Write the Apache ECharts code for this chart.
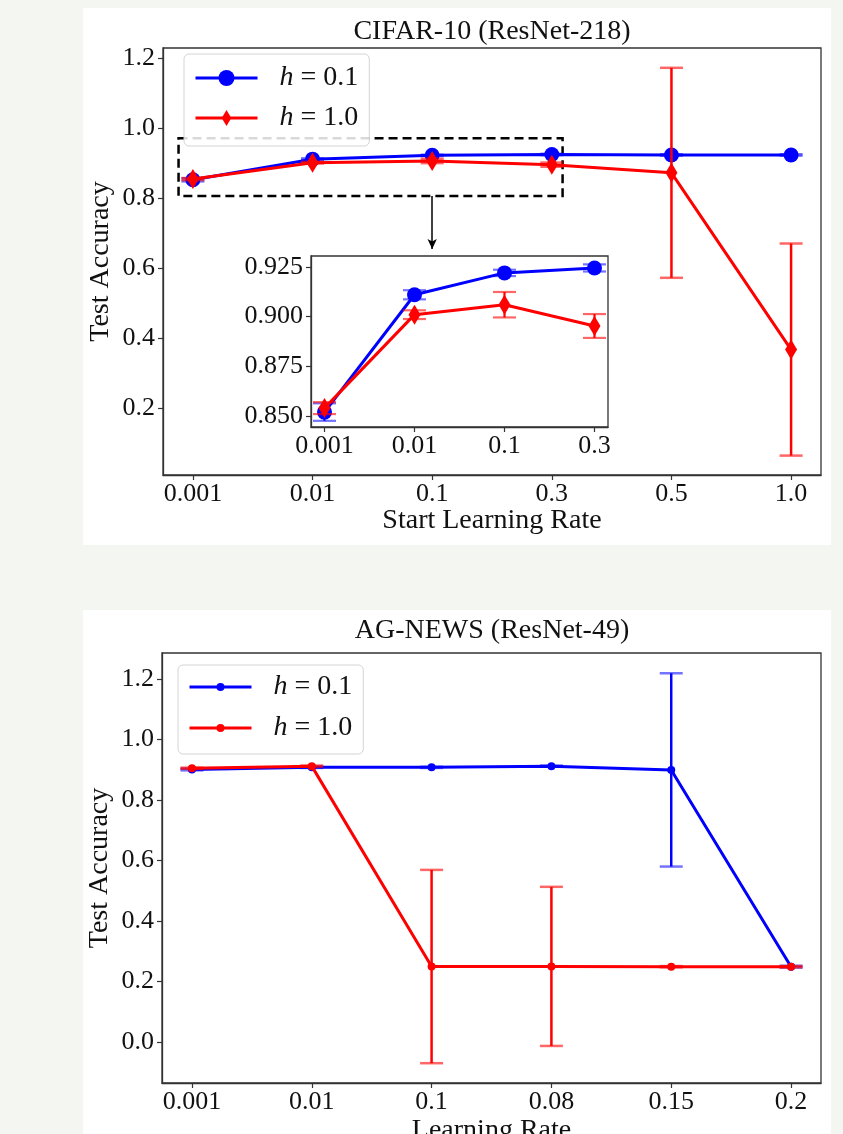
<!DOCTYPE html>
<html><head><meta charset="utf-8">
<script src="https://cdn.jsdelivr.net/npm/echarts@6.0.0/dist/echarts.min.js"></script>
<style>
html,body{margin:0;padding:0;background:#f4f6f1;width:843px;height:1134px;overflow:hidden}
.panel{position:absolute;background:#fff}
#c1{left:83px;top:8px;width:748px;height:537px}
#c2{left:83px;top:610px;width:748px;height:524px}
</style></head><body>
<div id="c1" class="panel"></div><div id="c2" class="panel"></div>
<script>
const FONT = "'Liberation Serif', 'DejaVu Serif', serif";
const seriesNames = ['h = 0.1', 'h = 1.0'];

// CIFAR-10 (ResNet-218)
const cifarLR = ['0.001', '0.01', '0.1', '0.3', '0.5', '1.0'];
const cifarAccH01 = [0.852, 0.911, 0.922, 0.9245, 0.923, 0.923];
const cifarErrH01 = [0.0044, 0.0023, 0.0016, 0.0018, 0.002, 0.002];
const cifarAccH10 = [0.854, 0.901, 0.906, 0.8953, 0.872, 0.367];
const cifarErrH10 = [0.003, 0.0022, 0.0064, 0.006, 0.300, 0.303];
const cifarYTicks = [0.2, 0.4, 0.6, 0.8, 1.0, 1.2];
const cifarYRange = [0.0086, 1.2286];
const cifarXRange = [-0.25, 5.25];
const insetCount = 4;
const insetYTicks = [0.850, 0.875, 0.900, 0.925];
const insetYRange = [0.8445, 0.9305];
const insetXRange = [-0.15, 3.15];
const zoomBoxX = [-0.12, 3.09];
const zoomBoxY = [0.806, 0.971];
const arrowX = 2;
const arrowY = [0.806, 0.654];

// AG-NEWS (ResNet-49)
const agLR = ['0.001', '0.01', '0.1', '0.08', '0.15', '0.2'];
const agAccH01 = [0.901, 0.908, 0.908, 0.912, 0.8995, 0.249];
const agErrH01 = [0.003, 0.002, 0.002, 0.002, 0.3195, 0.003];
const agAccH10 = [0.905, 0.912, 0.2495, 0.250, 0.249, 0.249];
const agErrH10 = [0.002, 0.002, 0.3195, 0.263, 0.002, 0.002];
const agYTicks = [0.0, 0.2, 0.4, 0.6, 0.8, 1.0, 1.2];
const agYRange = [-0.1355, 1.286];
const agXRange = [-0.25, 5.25];

const BLUE = '#0000ff', RED = '#ff0000';
const BLUE_CAP = 'rgba(0,0,255,0.55)', RED_CAP = 'rgba(255,0,0,0.6)';
const AX = '#333';
const DIAMOND = 'path://M-10,-10 M10,10 M0,-10 L6,0 L0,10 L-6,0 Z';

function pairs(vals) { return vals.map((v, i) => [i, v]); }
function triples(vals, errs) { return vals.map((v, i) => [i, v, errs[i]]); }

function errSeries(vals, errs, color, capColor, xi, yi, halfCap, lw, z) {
  return {
    type: 'custom', coordinateSystem: 'cartesian2d', xAxisIndex: xi, yAxisIndex: yi,
    silent: true, z: z, data: triples(vals, errs), encode: { x: 0, y: 1 },
    renderItem: function (params, api) {
      const x = api.value(0), y = api.value(1), e = api.value(2);
      const t = api.coord([x, y + e]), b = api.coord([x, y - e]);
      return {
        type: 'group', children: [
          { type: 'line', shape: { x1: t[0], y1: t[1], x2: b[0], y2: b[1] }, style: { stroke: color, lineWidth: lw } },
          { type: 'line', shape: { x1: t[0] - halfCap, y1: t[1], x2: t[0] + halfCap, y2: t[1] }, style: { stroke: capColor, lineWidth: lw } },
          { type: 'line', shape: { x1: b[0] - halfCap, y1: b[1], x2: b[0] + halfCap, y2: b[1] }, style: { stroke: capColor, lineWidth: lw } }
        ]
      };
    }
  };
}

function lineSeries(name, vals, color, symbol, size, xi, yi, z, extra) {
  return Object.assign({
    name: name, type: 'line', xAxisIndex: xi, yAxisIndex: yi, z: z,
    data: pairs(vals), symbol: symbol, symbolSize: size, showSymbol: true,
    lineStyle: { color: color, width: 3 }, itemStyle: { color: color },
    emphasis: { disabled: true }
  }, extra || {});
}

function xAxisCfg(gi, labels, range, fs, margin, name, nameGap) {
  const idx = labels.map((_, i) => i);
  return {
    type: 'value', gridIndex: gi, min: range[0], max: range[1],
    name: name || '', nameLocation: 'middle', nameGap: nameGap || 0, nameMoveOverlap: false,
    nameTextStyle: { fontFamily: FONT, fontSize: 28, color: '#111' },
    axisLine: { show: true, onZero: false, lineStyle: { color: AX, width: 1.3 } },
    axisTick: { show: true, inside: false, length: 5, customValues: idx, lineStyle: { color: AX, width: 1.2 } },
    axisLabel: { show: true, customValues: idx, margin: margin, fontFamily: FONT, fontSize: fs, color: '#111',
      formatter: v => labels[Math.round(v)] },
    splitLine: { show: false }
  };
}

function yAxisCfg(gi, ticks, range, fs, digits, name, nameGap) {
  return {
    type: 'value', gridIndex: gi, min: range[0], max: range[1],
    name: name || '', nameLocation: 'middle', nameGap: nameGap || 0, nameMoveOverlap: false,
    nameTextStyle: { fontFamily: FONT, fontSize: 28, color: '#111' },
    axisLine: { show: true, onZero: false, lineStyle: { color: AX, width: 1.3 } },
    axisTick: { show: true, inside: false, length: 5, customValues: ticks, lineStyle: { color: AX, width: 1.2 } },
    axisLabel: { show: true, customValues: ticks, margin: 8, fontFamily: FONT, fontSize: fs, color: '#111',
      formatter: v => v.toFixed(digits) },
    splitLine: { show: false }
  };
}

function legendCfg(left, top, itemHeight, itemGap, padding) {
  return {
    data: seriesNames, orient: 'vertical', left: left, top: top,
    itemWidth: 62, itemHeight: itemHeight, itemGap: itemGap, padding: padding,
    borderColor: '#d4d4d4', borderWidth: 1, borderRadius: 5, backgroundColor: 'rgba(255,255,255,0.85)',
    selectedMode: false,
    lineStyle: { width: 3 },
    formatter: n => '{g|}{i|h}' + n.slice(1),
    textStyle: {
      fontFamily: FONT, fontSize: 28, color: '#111', lineHeight: 30,
      rich: { g: { width: 17 }, i: { fontStyle: 'italic', fontFamily: FONT, fontSize: 28, color: '#111' } }
    }
  };
}

function titleCfg(text, top) {
  return { text: text, left: 409, top: top, textAlign: 'center', padding: 0,
    textStyle: { fontFamily: FONT, fontSize: 28, fontWeight: 'normal', color: '#111' } };
}

// ---------- Chart 1 ----------
const c1 = echarts.init(document.getElementById('c1'), null, { renderer: 'canvas' });
const ins = (a) => a.slice(0, insetCount);
c1.setOption({
  animation: false,
  backgroundColor: '#fff',
  title: titleCfg('CIFAR-10 (ResNet-218)', 10),
  legend: legendCfg(101, 46, 20, 10, [9, 11, 13, 10]),
  grid: [
    { left: 80, top: 40, width: 658, height: 427, show: true, borderColor: AX, borderWidth: 1.3, backgroundColor: 'transparent', outerBoundsMode: 'none' },
    { left: 228, top: 248, width: 297, height: 171, show: true, borderColor: AX, borderWidth: 1.3, backgroundColor: '#fff', outerBoundsMode: 'none', z: 5 }
  ],
  xAxis: [
    xAxisCfg(0, cifarLR, cifarXRange, 26, 6, 'Start Learning Rate', 32),
    Object.assign(xAxisCfg(1, ins(cifarLR), insetXRange, 26, 6), { z: 6 })
  ],
  yAxis: [
    yAxisCfg(0, cifarYTicks, cifarYRange, 26, 1, 'Test Accuracy', 48),
    Object.assign(yAxisCfg(1, insetYTicks, insetYRange, 26, 3), { z: 6 })
  ],
  series: [
    lineSeries(seriesNames[0], cifarAccH01, BLUE, 'circle', 15, 0, 0, 2, {
      markArea: { silent: true, itemStyle: { color: 'rgba(0,0,0,0)', borderColor: '#000', borderWidth: 2.5, borderType: [9, 5] },
        data: [[{ coord: [zoomBoxX[0], zoomBoxY[1]] }, { coord: [zoomBoxX[1], zoomBoxY[0]] }]] },
      markLine: { silent: true, symbol: ['none', 'arrow'], symbolSize: [7, 10], label: { show: false },
        lineStyle: { color: '#000', width: 1.5, type: 'solid' },
        data: [[{ coord: [arrowX, arrowY[0]] }, { coord: [arrowX, arrowY[1]] }]] }
    }),
    errSeries(cifarAccH01, cifarErrH01, BLUE, BLUE_CAP, 0, 0, 11.5, 2.5, 2),
    lineSeries(seriesNames[1], cifarAccH10, RED, DIAMOND, 20, 0, 0, 3),
    errSeries(cifarAccH10, cifarErrH10, RED, RED_CAP, 0, 0, 11.5, 2.5, 3),
    lineSeries(seriesNames[0], ins(cifarAccH01), BLUE, 'circle', 15, 1, 1, 7),
    errSeries(ins(cifarAccH01), ins(cifarErrH01), BLUE, BLUE_CAP, 1, 1, 11.5, 2.2, 7),
    lineSeries(seriesNames[1], ins(cifarAccH10), RED, DIAMOND, 20, 1, 1, 8),
    errSeries(ins(cifarAccH10), ins(cifarErrH10), RED, RED_CAP, 1, 1, 11.5, 2.2, 8)
  ]
});

// ---------- Chart 2 ----------
const c2 = echarts.init(document.getElementById('c2'), null, { renderer: 'canvas' });
c2.setOption({
  animation: false,
  backgroundColor: '#fff',
  title: titleCfg('AG-NEWS (ResNet-49)', 7),
  legend: legendCfg(95, 55, 10, 11, [7, 11, 11, 10]),
  grid: [{ left: 79, top: 43, width: 659, height: 430, show: true, borderColor: AX, borderWidth: 1.3, backgroundColor: 'transparent', outerBoundsMode: 'none' }],
  xAxis: [xAxisCfg(0, agLR, agXRange, 26, 6, 'Learning Rate', 34)],
  yAxis: [yAxisCfg(0, agYTicks, agYRange, 26, 1, 'Test Accuracy', 48)],
  series: [
    lineSeries(seriesNames[0], agAccH01, BLUE, 'circle', 8, 0, 0, 2),
    errSeries(agAccH01, agErrH01, BLUE, BLUE_CAP, 0, 0, 11.5, 2.5, 2),
    lineSeries(seriesNames[1], agAccH10, RED, 'circle', 8, 0, 0, 3),
    errSeries(agAccH10, agErrH10, RED, RED_CAP, 0, 0, 11.5, 2.5, 3)
  ]
});
</script>
</body></html>
